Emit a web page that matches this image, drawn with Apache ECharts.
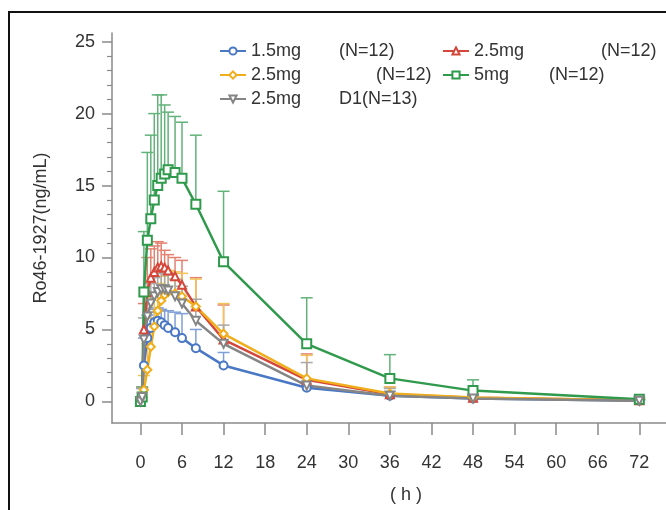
<!DOCTYPE html>
<html>
<head>
<meta charset="utf-8">
<script src="https://cdn.jsdelivr.net/npm/echarts@6/dist/echarts.min.js"></script>
<style>html,body{margin:0;padding:0;background:#fff;}#c{width:666px;height:510px;}</style>
</head>
<body>
<div id="c"></div>
<script>
// ---- data ----
const times = [0, 0.25, 0.5, 1, 1.5, 2, 2.5, 3, 3.5, 4, 5, 6, 8, 12, 24, 36, 48, 72];
const xTicks = [0, 6, 12, 18, 24, 30, 36, 42, 48, 54, 60, 66, 72];
const yTicks = [0, 5, 10, 15, 20, 25];
const yMinorTicks = [1,2,3,4,6,7,8,9,11,12,13,14,16,17,18,19,21,22,23,24];

const doseLabels = ['1.5mg', '2.5mg', '2.5mg', '5mg', '2.5mg'];
const nLabels = ['(N=12)', '(N=12)', '(N=12)', '(N=12)', 'D1(N=13)'];

const blueMean  = [0, 0.3, 2.5, 4.4, 5.1, 5.5, 5.6, 5.5, 5.3, 5.1, 4.8, 4.4, 3.7, 2.5, 0.95, 0.4, 0.2, 0.05];
const blueUpper = [0, 0.9, 4.4, 6.0, 6.2, 6.4, 6.5, 6.4, 6.3, 6.3, 6.2, 6.1, 5.0, 3.4, 1.4, 0.7, 0.4, 0.1];
const redMean   = [0, 0.4, 5.0, 7.6, 8.6, 9.0, 9.3, 9.4, 9.3, 9.1, 8.7, 8.1, 6.6, 4.3, 1.5, 0.5, 0.25, 0.08];
const redUpper  = [0, 1.0, 6.8, 10.0, 10.6, 10.8, 11.1, 11.0, 10.5, 10.2, 10.0, 9.8, 8.6, 6.7, 3.3, 1.0, 0.5, 0.15];
const yelMean   = [0, 0.1, 0.8, 2.2, 3.8, 5.2, 6.3, 7.0, 7.4, 7.6, 7.5, 7.3, 6.6, 4.7, 1.6, 0.55, 0.28, 0.08];
const yelUpper  = [0, 0.3, 1.8, 4.0, 5.8, 7.2, 8.2, 8.7, 9.0, 9.1, 9.0, 8.9, 8.5, 6.8, 3.2, 1.0, 0.5, 0.15];
const grnMean   = [0, 0.3, 7.6, 11.2, 12.7, 14.0, 15.0, 15.5, 15.8, 16.1, 15.9, 15.5, 13.7, 9.7, 4.0, 1.6, 0.75, 0.15];
const grnUpper  = [0, 1.0, 11.8, 17.3, 18.5, 20.0, 21.3, 21.3, 20.6, 20.1, 19.8, 19.4, 18.5, 14.6, 7.2, 3.25, 1.5, 0.3];
const grayMean  = [0, 0.3, 4.3, 5.9, 6.8, 7.3, 7.6, 7.8, 7.8, 7.7, 7.3, 6.8, 5.6, 4.0, 1.1, 0.4, 0.2, 0.05];
const grayUpper = [0, 0.9, 5.8, 7.5, 8.2, 8.6, 8.9, 9.0, 8.9, 8.8, 8.5, 8.0, 7.1, 5.3, 2.7, 0.9, 0.45, 0.12];

// ---- styling ----
const FONT = '"Liberation Sans", Arial, sans-serif';
const groups = [
  {mean: blueMean, upper: blueUpper, color: '#4a78c4', bar: '#7f9fd6', symbol: 'emptyCircle', rotate: 0},
  {mean: redMean,  upper: redUpper,  color: '#d4473a', bar: '#e3806f', symbol: 'emptyTriangle', rotate: 0},
  {mean: yelMean,  upper: yelUpper,  color: '#f0ae1c', bar: '#f2c358', symbol: 'emptyDiamond', rotate: 0},
  {mean: grnMean,  upper: grnUpper,  color: '#2f9a4c', bar: '#62b27a', symbol: 'emptyRect', rotate: 0},
  {mean: grayMean, upper: grayUpper, color: '#858585', bar: '#a8a8a8', symbol: 'emptyTriangle', rotate: 180}
];
const names = groups.map((g, i) => doseLabels[i] + ' ' + nLabels[i] + ' #' + (i + 1));

const series = [];
groups.forEach((g, i) => {
  series.push({
    type: 'custom',
    name: names[i] + ' SD',
    z: 1,
    silent: true,
    encode: {x: 0, y: [1, 2]},
    data: times.map((t, k) => [t, g.mean[k], g.upper[k]]),
    renderItem: function (params, api) {
      const m = api.value(1), u = api.value(2);
      if (!(u > m)) return null;
      const p1 = api.coord([api.value(0), m]);
      const p2 = api.coord([api.value(0), u]);
      const st = {stroke: g.bar, lineWidth: 1.5};
      return {type: 'group', children: [
        {type: 'line', shape: {x1: p1[0], y1: p1[1], x2: p2[0], y2: p2[1]}, style: st},
        {type: 'line', shape: {x1: p2[0] - 6, y1: p2[1], x2: p2[0] + 6, y2: p2[1]}, style: st}
      ]};
    }
  });
});
groups.forEach((g, i) => {
  series.push({
    type: 'line',
    name: names[i],
    z: 3,
    data: times.map((t, k) => [t, g.mean[k]]),
    symbol: g.symbol,
    symbolRotate: g.rotate,
    symbolSize: g.symbol === 'emptyRect' ? 9 : 8,
    lineStyle: {color: g.color, width: 2.5},
    itemStyle: {color: g.color, borderWidth: 1.2},
    emphasis: {disabled: true}
  });
});

const legendPos = [
  {left: 219, top: 42, w: 88},
  {left: 442, top: 42, w: 127},
  {left: 219, top: 66, w: 125},
  {left: 442, top: 66, w: 75},
  {left: 219, top: 90, w: 88}
];
const legends = legendPos.map((p, i) => ({
  data: [names[i]],
  left: p.left, top: p.top,
  padding: 0,
  itemWidth: 26, itemHeight: 9, itemGap: 0,
  selectedMode: false,
  formatter: () => '{a|' + doseLabels[i] + '}{b|' + nLabels[i] + '}',
  textStyle: {
    fontFamily: FONT, fontSize: 18, color: '#333',
    rich: {
      a: {width: p.w, fontFamily: FONT, fontSize: 18, color: '#333', lineHeight: 20},
      b: {fontFamily: FONT, fontSize: 18, color: '#333', lineHeight: 20}
    }
  }
}));

const axisColor = '#8a8a8a';
const option = {
  animation: false,
  backgroundColor: '#fff',
  grid: {left: 112, right: 0, top: 33, bottom: 87},
  legend: legends,
  xAxis: {
    type: 'value', min: -4.1, max: 75.85,
    name: '( h )', nameLocation: 'middle', nameGap: 63,
    nameTextStyle: {fontFamily: FONT, fontSize: 18, color: '#333', padding: [0, 0, 0, 34]},
    splitLine: {show: false},
    axisLine: {show: true, onZero: false, lineStyle: {color: axisColor, width: 1.5}},
    axisTick: {show: true, customValues: xTicks, length: 12, lineStyle: {color: axisColor, width: 1.5}},
    axisLabel: {customValues: xTicks, margin: 31, fontFamily: FONT, fontSize: 18, color: '#333'}
  },
  yAxis: [{
    type: 'value', min: -1.5, max: 25.6,
    name: 'Ro46-1927(ng/mL)', nameLocation: 'middle', nameGap: 62,
    nameTextStyle: {fontFamily: FONT, fontSize: 18, color: '#333'},
    splitLine: {show: false},
    axisLine: {show: true, onZero: false, lineStyle: {color: axisColor, width: 1.5}},
    axisTick: {show: true, customValues: yTicks, length: 10, lineStyle: {color: axisColor, width: 1.5}},
    axisLabel: {customValues: yTicks, margin: 17, fontFamily: FONT, fontSize: 18, color: '#333'}
  }, {
    type: 'value', min: -1.5, max: 25.6, position: 'left', offset: 0,
    splitLine: {show: false},
    axisLine: {show: false, onZero: false},
    axisTick: {show: true, customValues: yMinorTicks, length: 5, lineStyle: {color: axisColor, width: 1.2}},
    axisLabel: {show: false}
  }],
  graphic: [{
    type: 'rect', silent: true, z: 100,
    shape: {x: 9, y: 12, width: 720, height: 600},
    style: {fill: 'none', stroke: '#111', lineWidth: 2}
  }],
  series: series
};
const chart = echarts.init(document.getElementById('c'), null, {renderer: 'canvas'});
chart.setOption(option);
</script>
</body>
</html>
